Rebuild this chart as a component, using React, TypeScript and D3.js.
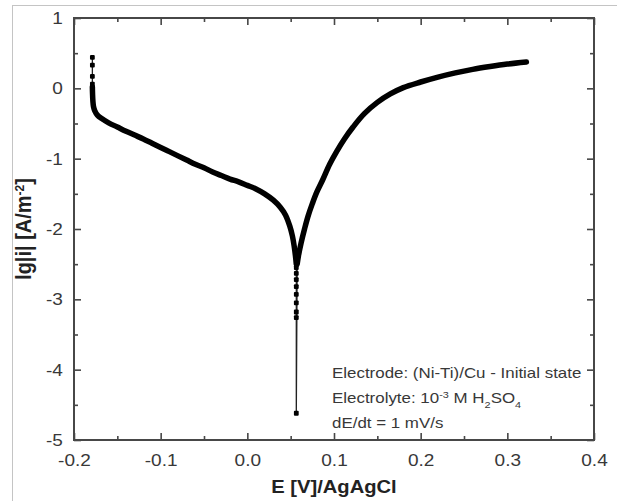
import { useRef, useEffect } from "react";
import * as d3 from "d3";

// cathodic branch, dense points (E in V vs Ag/AgCl, lg|i| in A/m^2)
const cathodicE = [
  -0.1788, -0.1786, -0.1782, -0.1775, -0.176, -0.173, -0.168, -0.16, -0.15,
  -0.14, -0.13, -0.12, -0.11, -0.1, -0.09, -0.08, -0.07, -0.06, -0.05, -0.04,
  -0.03, -0.02, -0.01, 0.0, 0.01, 0.02, 0.03, 0.038, 0.044, 0.049, 0.052,
  0.054, 0.0555, 0.0565,
];
const cathodicLg = [
  0.02, -0.08, -0.18, -0.26, -0.32, -0.38, -0.43, -0.49, -0.55, -0.61, -0.665,
  -0.72, -0.78, -0.84, -0.9, -0.96, -1.02, -1.08, -1.13, -1.19, -1.24, -1.29,
  -1.33, -1.38, -1.43, -1.5, -1.59, -1.69, -1.8, -1.96, -2.1, -2.24, -2.38,
  -2.5,
];

// anodic branch, dense points
const anodicE = [
  0.0575, 0.059, 0.062, 0.066, 0.07, 0.075, 0.08, 0.087, 0.095, 0.103, 0.112,
  0.122, 0.135, 0.15, 0.165, 0.18, 0.2, 0.22, 0.24, 0.26, 0.28, 0.3, 0.322,
];
const anodicLg = [
  -2.5, -2.38, -2.2, -2.0, -1.82, -1.64, -1.48, -1.3, -1.08, -0.9, -0.72,
  -0.55, -0.36, -0.2, -0.08, 0.01, 0.09, 0.16, 0.22, 0.27, 0.31, 0.345, 0.375,
];

// sparse points at the start of the scan
const startE = -0.1788;
const startLg = [0.44, 0.33, 0.17, 0.06];

// sparse points around the corrosion potential
const corrE = 0.0565;
const corrLg = [-2.55, -2.63, -2.72, -2.82, -2.93, -3.05, -3.18, -3.26, -4.62];

const xTicks = [-0.2, -0.1, 0.0, 0.1, 0.2, 0.3, 0.4];
const xMinorTicks = [-0.15, -0.05, 0.05, 0.15, 0.25, 0.35];
const yTicks = [-5, -4, -3, -2, -1, 0, 1];
const yMinorTicks = [-4.5, -3.5, -2.5, -1.5, -0.5, 0.5];

const FONT = "'Liberation Sans', Arial, Helvetica, sans-serif";

const Chart = () => {
  const svgRef = useRef<SVGSVGElement | null>(null);

  useEffect(() => {
    if (svgRef.current === null) return;
    const width = 617;
    const height = 501;
    const plot = { left: 74, right: 594, top: 18, bottom: 440 };

    const svg = d3.select(svgRef.current);
    svg.selectAll("*").remove();

    // light frame around the picture
    svg
      .append("rect")
      .attr("x", 12.5)
      .attr("y", 5.5)
      .attr("width", width)
      .attr("height", height)
      .attr("fill", "none")
      .attr("stroke", "#c4c4c4")
      .attr("stroke-width", 1);

    const x = d3.scaleLinear().domain([-0.2, 0.4]).range([plot.left, plot.right]);
    const y = d3.scaleLinear().domain([-5, 1]).range([plot.bottom, plot.top]);

    const axisColor = "#474747";
    const textColor = "#383838";

    const styleAxis = (g: d3.Selection<SVGGElement, unknown, null, undefined>) => {
      g.select(".domain").remove();
      g.selectAll("line").attr("stroke", axisColor).attr("stroke-width", 1.6);
      g.attr("font-family", FONT).attr("font-size", 17);
      g.selectAll("text").attr("fill", textColor);
    };

    // bottom axis
    const bottom = svg
      .append("g")
      .attr("transform", `translate(0,${plot.bottom})`)
      .call(
        d3
          .axisBottom(x)
          .tickValues(xTicks)
          .tickFormat((d) => (d as number).toFixed(1))
          .tickSize(-7)
          .tickSizeOuter(0)
          .tickPadding(14)
      );
    styleAxis(bottom);
    bottom.selectAll("text").attr("transform", "scale(1.12,1)");

    const bottomMinor = svg
      .append("g")
      .attr("transform", `translate(0,${plot.bottom})`)
      .call(d3.axisBottom(x).tickValues(xMinorTicks).tickFormat(() => "").tickSize(-4).tickSizeOuter(0));
    styleAxis(bottomMinor);

    // top mirror axis
    const top = svg
      .append("g")
      .attr("transform", `translate(0,${plot.top})`)
      .call(d3.axisTop(x).tickValues(xTicks).tickFormat(() => "").tickSize(-7).tickSizeOuter(0));
    styleAxis(top);
    const topMinor = svg
      .append("g")
      .attr("transform", `translate(0,${plot.top})`)
      .call(d3.axisTop(x).tickValues(xMinorTicks).tickFormat(() => "").tickSize(-4).tickSizeOuter(0));
    styleAxis(topMinor);

    // left axis
    const left = svg
      .append("g")
      .attr("transform", `translate(${plot.left},0)`)
      .call(
        d3
          .axisLeft(y)
          .tickValues(yTicks)
          .tickFormat((d) => String(d))
          .tickSize(-7)
          .tickSizeOuter(0)
          .tickPadding(10)
      );
    styleAxis(left);
    left.selectAll("text").attr("transform", "scale(1.12,1)");
    const leftMinor = svg
      .append("g")
      .attr("transform", `translate(${plot.left},0)`)
      .call(d3.axisLeft(y).tickValues(yMinorTicks).tickFormat(() => "").tickSize(-4).tickSizeOuter(0));
    styleAxis(leftMinor);

    // right mirror axis
    const right = svg
      .append("g")
      .attr("transform", `translate(${plot.right},0)`)
      .call(d3.axisRight(y).tickValues(yTicks).tickFormat(() => "").tickSize(-7).tickSizeOuter(0));
    styleAxis(right);
    const rightMinor = svg
      .append("g")
      .attr("transform", `translate(${plot.right},0)`)
      .call(d3.axisRight(y).tickValues(yMinorTicks).tickFormat(() => "").tickSize(-4).tickSizeOuter(0));
    styleAxis(rightMinor);

    // plot frame
    svg
      .append("rect")
      .attr("x", plot.left)
      .attr("y", plot.top)
      .attr("width", plot.right - plot.left)
      .attr("height", plot.bottom - plot.top)
      .attr("fill", "none")
      .attr("stroke", axisColor)
      .attr("stroke-width", 2);

    type Pt = [number, number];
    const startPts: Pt[] = startLg.map((v) => [startE, v]);
    const cathPts: Pt[] = cathodicE.map((e, i) => [e, cathodicLg[i]]);
    const corrPts: Pt[] = corrLg.map((v) => [corrE, v]);
    const anodPts: Pt[] = anodicE.map((e, i) => [e, anodicLg[i]]);

    // thin connecting line through the whole scan
    const thin = d3
      .line<Pt>()
      .x((d) => x(d[0]))
      .y((d) => y(d[1]));
    svg
      .append("path")
      .attr("d", thin([...startPts, ...cathPts, ...corrPts, ...anodPts]))
      .attr("fill", "none")
      .attr("stroke", "#222")
      .attr("stroke-width", 1.3);

    // dense branches look like a thick band of symbols
    const thick = d3
      .line<Pt>()
      .x((d) => x(d[0]))
      .y((d) => y(d[1]))
      .curve(d3.curveCatmullRom.alpha(0.5));
    [cathPts, anodPts].forEach((pts) => {
      svg
        .append("path")
        .attr("d", thick(pts))
        .attr("fill", "none")
        .attr("stroke", "#000")
        .attr("stroke-width", 5.5)
        .attr("stroke-linecap", "round")
        .attr("stroke-linejoin", "round");
    });

    // sparse symbols
    svg
      .append("g")
      .selectAll("rect")
      .data([...startPts, ...corrPts])
      .enter()
      .append("rect")
      .attr("x", (d) => x(d[0]) - 2.4)
      .attr("y", (d) => y(d[1]) - 2.4)
      .attr("width", 4.8)
      .attr("height", 4.8)
      .attr("rx", 1)
      .attr("fill", "#000");

    // axis titles
    svg
      .append("text")
      .attr("transform", `translate(${(plot.left + plot.right) / 2},493) scale(1.12,1)`)
      .attr("text-anchor", "middle")
      .attr("font-family", FONT)
      .attr("font-weight", "bold")
      .attr("font-size", 18)
      .attr("fill", "#222")
      .text("E [V]/AgAgCl");

    const yTitle = svg
      .append("text")
      .attr("transform", `translate(31,${(plot.top + plot.bottom) / 2}) rotate(-90) scale(1,1.12)`)
      .attr("text-anchor", "middle")
      .attr("font-family", FONT)
      .attr("font-weight", "bold")
      .attr("font-size", 20)
      .attr("fill", "#222");
    yTitle.append("tspan").text("lg|i| [A/m");
    yTitle.append("tspan").attr("font-size", 12).attr("baseline-shift", "super").text("-2");
    yTitle.append("tspan").text("]");

    // experiment notes
    const notes = svg
      .append("g")
      .attr("font-family", FONT)
      .attr("font-size", 14)
      .attr("fill", textColor);
    notes
      .append("text")
      .attr("transform", "translate(332,378) scale(1.21,1)")
      .text("Electrode: (Ni-Ti)/Cu - Initial state");
    const l2 = notes.append("text").attr("transform", "translate(332,403) scale(1.21,1)");
    l2.append("tspan").text("Electrolyte: 10");
    l2.append("tspan").attr("font-size", 9).attr("baseline-shift", "super").text("-3");
    l2.append("tspan").text(" M H");
    l2.append("tspan").attr("font-size", 9).attr("baseline-shift", "sub").text("2");
    l2.append("tspan").text("SO");
    l2.append("tspan").attr("font-size", 9).attr("baseline-shift", "sub").text("4");
    notes
      .append("text")
      .attr("transform", "translate(332,428) scale(1.21,1)")
      .text("dE/dt = 1 mV/s");
  }, []);

  return (
    <svg
      ref={svgRef}
      width={617}
      height={501}
      style={{ position: "absolute", left: 0, top: 0, background: "#fff" }}
    />
  );
};

export default function App() {
  return <Chart />;
}
